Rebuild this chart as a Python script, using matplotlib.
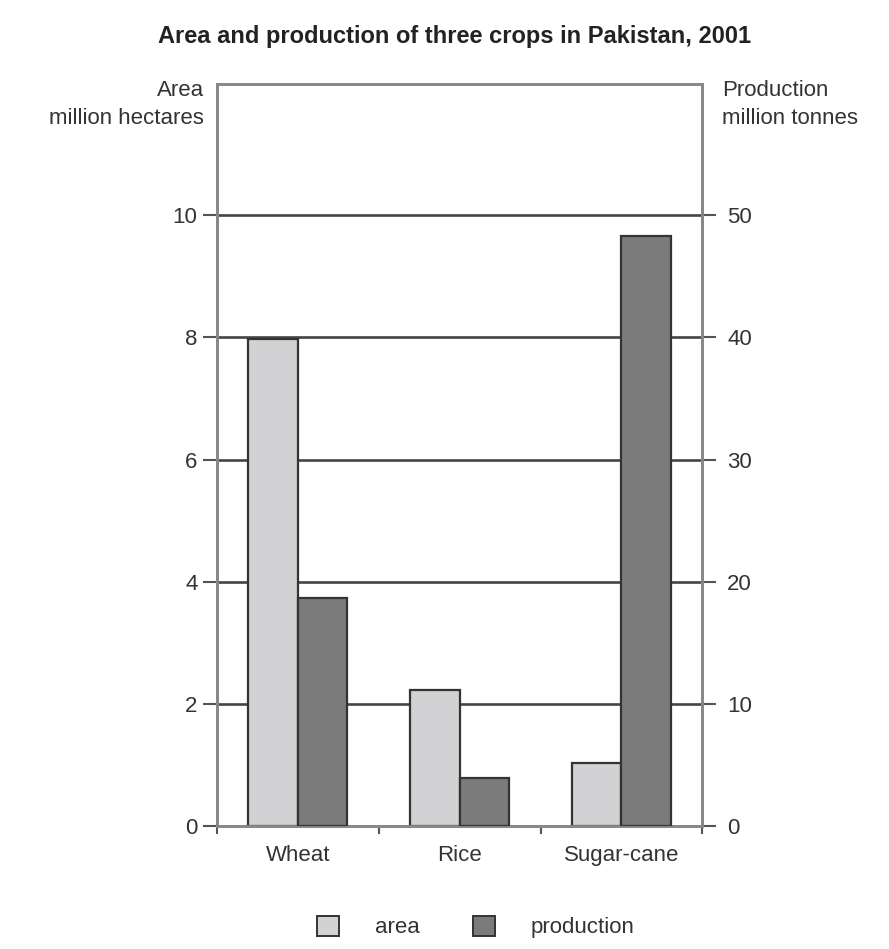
import matplotlib
matplotlib.use("Agg")
import matplotlib.pyplot as plt
from matplotlib.patches import Patch
import numpy as np

plt.rcParams['font.family'] = ['Liberation Sans', 'DejaVu Sans']

crops = ["Wheat", "Rice", "Sugar-cane"]
area = [7.97, 2.23, 1.03]          # million hectares
production = [18.7, 3.9, 48.3]     # million tonnes
left_ticks = [0, 2, 4, 6, 8, 10]
right_ticks = [0, 10, 20, 30, 40, 50]

area_col = "#d2d2d4"
prod_col = "#7b7b7b"
edge_col = "#333333"
text_col = "#333333"

fig = plt.figure(figsize=(8.89, 9.49), dpi=100)
ax = fig.add_axes([0.244, 0.1296, 0.546, 0.7819])

x = np.arange(len(crops))
w = 0.305
ax.set_xlim(-0.5, 2.5)
ax.set_ylim(0, 12.15)

for yv in left_ticks[1:]:
    ax.axhline(yv, color="#444444", lw=1.9, zorder=1)

ax.bar(x - w/2, area, width=w, color=area_col, edgecolor=edge_col, lw=1.6, zorder=3)

ax2 = ax.twinx()
ax2.set_ylim(0, 12.15 * 5)
ax2.bar(x + w/2, production, width=w, color=prod_col, edgecolor=edge_col, lw=1.6, zorder=3)

for a in (ax, ax2):
    for s in a.spines.values():
        s.set_color("#888888")
        s.set_linewidth(2)

ax.set_yticks(left_ticks)
ax.tick_params(axis='y', direction='out', length=10, width=1.5, color="#555555",
               labelsize=16, labelcolor=text_col, pad=4)
ax2.set_yticks(right_ticks)
ax2.tick_params(axis='y', direction='out', length=10, width=1.5, color="#555555",
                labelsize=16, labelcolor=text_col, pad=8)

ax.set_xticks(x)
ax.set_xticklabels(crops)
ax.tick_params(axis='x', which='major', length=0, labelsize=16, labelcolor=text_col, pad=14)
ax.set_xticks([-0.5, 0.5, 1.5, 2.5], minor=True)
ax.tick_params(axis='x', which='minor', direction='out', length=6, width=1.5, color="#555555")

fig.text(0.511, 0.962, "Area and production of three crops in Pakistan, 2001",
         ha='center', va='center', fontsize=17, fontweight='bold', color="#222222")
fig.text(0.229, 0.890, "Area\nmillion hectares", ha='right', va='center',
         fontsize=16, color=text_col, linespacing=1.45)
fig.text(0.812, 0.890, "Production\nmillion tonnes", ha='left', va='center',
         fontsize=16, color=text_col, linespacing=1.45)

handles = [Patch(facecolor=area_col, edgecolor=edge_col, lw=1.4, label="area"),
           Patch(facecolor=prod_col, edgecolor=edge_col, lw=1.4, label="production")]
fig.legend(handles=handles, loc='center', bbox_to_anchor=(0.535, 0.023), ncol=2,
           frameon=False, fontsize=16, handlelength=1.0, handleheight=1.0,
           handletextpad=1.6, columnspacing=2.4, labelcolor=text_col)

fig.savefig("out.png", dpi=100, facecolor="white")
